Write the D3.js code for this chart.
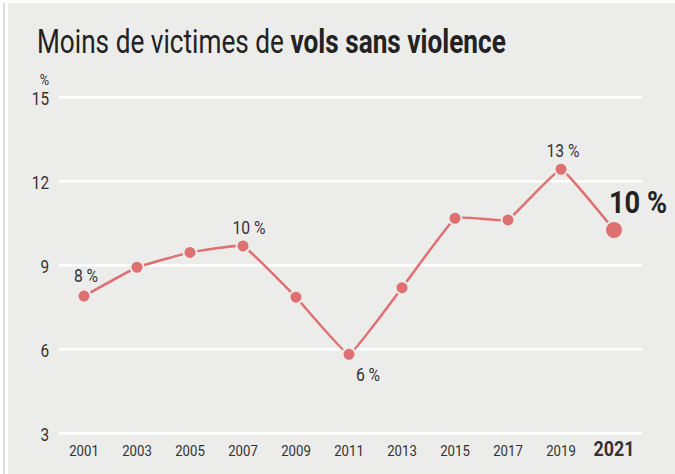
<!DOCTYPE html>
<html>
<head>
<meta charset="utf-8">
<script src="https://cdn.jsdelivr.net/npm/d3@7"></script>
<style>
  html, body { margin: 0; padding: 0; background: #fff; }
  svg { display: block; }
  text { font-family: "Roboto", "Liberation Sans", sans-serif; }
</style>
</head>
<body>
<div id="chart"></div>
<script>
const years = [2001, 2003, 2005, 2007, 2009, 2011, 2013, 2015, 2017, 2019, 2021];
const values = [7.9, 8.93, 9.46, 9.69, 7.86, 5.82, 8.2, 10.68, 10.62, 12.43, 10.26];
const yTicks = [3, 6, 9, 12, 15];
const labelYears = [2001, 2007, 2011, 2019, 2021];
const labelTexts = ["8 %", "10 %", "6 %", "13 %", "10 %"];

const width = 675;
const height = 474;
const bg = "#ececea";
const red = "#de7072";
const narrow = 0.85; // condensed look

const svg = d3.select("#chart")
  .append("svg")
  .attr("width", width)
  .attr("height", height);

// frame
svg.append("rect").attr("x", 3).attr("y", 3).attr("width", 2).attr("height", height)
  .attr("fill", "#dcdcdc");
svg.append("rect").attr("x", 8).attr("y", 3).attr("width", width - 8).attr("height", height - 3)
  .attr("fill", bg);

// positions a text with a narrow horizontal scale
function place(sel, fx, fy) {
  sel.attr("transform", (d, i) => `translate(${fx(d, i)},${fy(d, i)}) scale(${narrow},1)`);
}

// title
const titleG = svg.append("g").attr("transform", "translate(37,53)");
const title = titleG.append("text")
  .attr("font-size", 33)
  .attr("fill", "#222");
title.append("tspan").text("Moins de victimes de ");
title.append("tspan").attr("font-weight", "bold").text("vols sans violence");
const tw = title.node().getComputedTextLength();
title.attr("transform", `scale(${469 / tw},1)`);

const x = d3.scaleLinear().domain([2001, 2021]).range([84, 614]);
const y = d3.scaleLinear().domain([3, 15]).range([433.3, 97.3]);

// grid
const grid = svg.append("g");
grid.selectAll("line")
  .data(yTicks)
  .join("line")
  .attr("x1", 59)
  .attr("x2", 642)
  .attr("y1", d => y(d))
  .attr("y2", d => y(d))
  .attr("stroke", "#fff")
  .attr("stroke-width", 2.5);

grid.selectAll("text")
  .data(yTicks)
  .join("text")
  .call(place, () => 49, d => y(d) + 8)
  .attr("text-anchor", "end")
  .attr("font-size", 18)
  .attr("fill", "#333")
  .text(d => d);

svg.append("text")
  .datum("%")
  .call(place, () => 49, () => 85)
  .attr("text-anchor", "end")
  .attr("font-size", 15)
  .attr("fill", "#333")
  .text(d => d);

// x labels
svg.append("g")
  .selectAll("text")
  .data(years)
  .join("text")
  .call(place, d => x(d), () => 456)
  .attr("text-anchor", "middle")
  .attr("font-size", d => d === 2021 ? 21 : 15.5)
  .attr("font-weight", d => d === 2021 ? "bold" : "normal")
  .attr("fill", "#333")
  .text(d => d);

// line
const data = years.map((d, i) => ({ year: d, value: values[i] }));
const line = d3.line()
  .x(d => x(d.year))
  .y(d => y(d.value))
  .curve(d3.curveCardinal.tension(0.75));

svg.append("path")
  .datum(data)
  .attr("d", line)
  .attr("fill", "none")
  .attr("stroke", red)
  .attr("stroke-width", 2.5);

svg.append("g")
  .selectAll("circle")
  .data(data)
  .join("circle")
  .attr("cx", d => x(d.year))
  .attr("cy", d => y(d.value))
  .attr("r", d => d.year === 2021 ? 9 : 6.5)
  .attr("fill", red)
  .attr("stroke", bg)
  .attr("stroke-width", 2);

// value labels
const offsets = {
  2001: { dx: 2, dy: -14, size: 18.5, anchor: "middle", weight: "normal" },
  2007: { dx: 6, dy: -12, size: 18.5, anchor: "middle", weight: "normal" },
  2011: { dx: 19, dy: 27, size: 18.5, anchor: "middle", weight: "normal" },
  2019: { dx: 2, dy: -12, size: 18.5, anchor: "middle", weight: "normal" },
  2021: { dx: -5, dy: -17, size: 32, anchor: "start", weight: "bold" }
};
const labelData = labelYears.map((d, i) => ({
  year: d,
  text: labelTexts[i],
  value: values[years.indexOf(d)]
}));
svg.append("g")
  .selectAll("text")
  .data(labelData)
  .join("text")
  .call(place, d => x(d.year) + offsets[d.year].dx, d => y(d.value) + offsets[d.year].dy)
  .attr("text-anchor", d => offsets[d.year].anchor)
  .attr("font-size", d => offsets[d.year].size)
  .attr("font-weight", d => offsets[d.year].weight)
  .attr("fill", d => d.year === 2021 ? "#222" : "#333")
  .text(d => d.text);
</script>
</body>
</html>
